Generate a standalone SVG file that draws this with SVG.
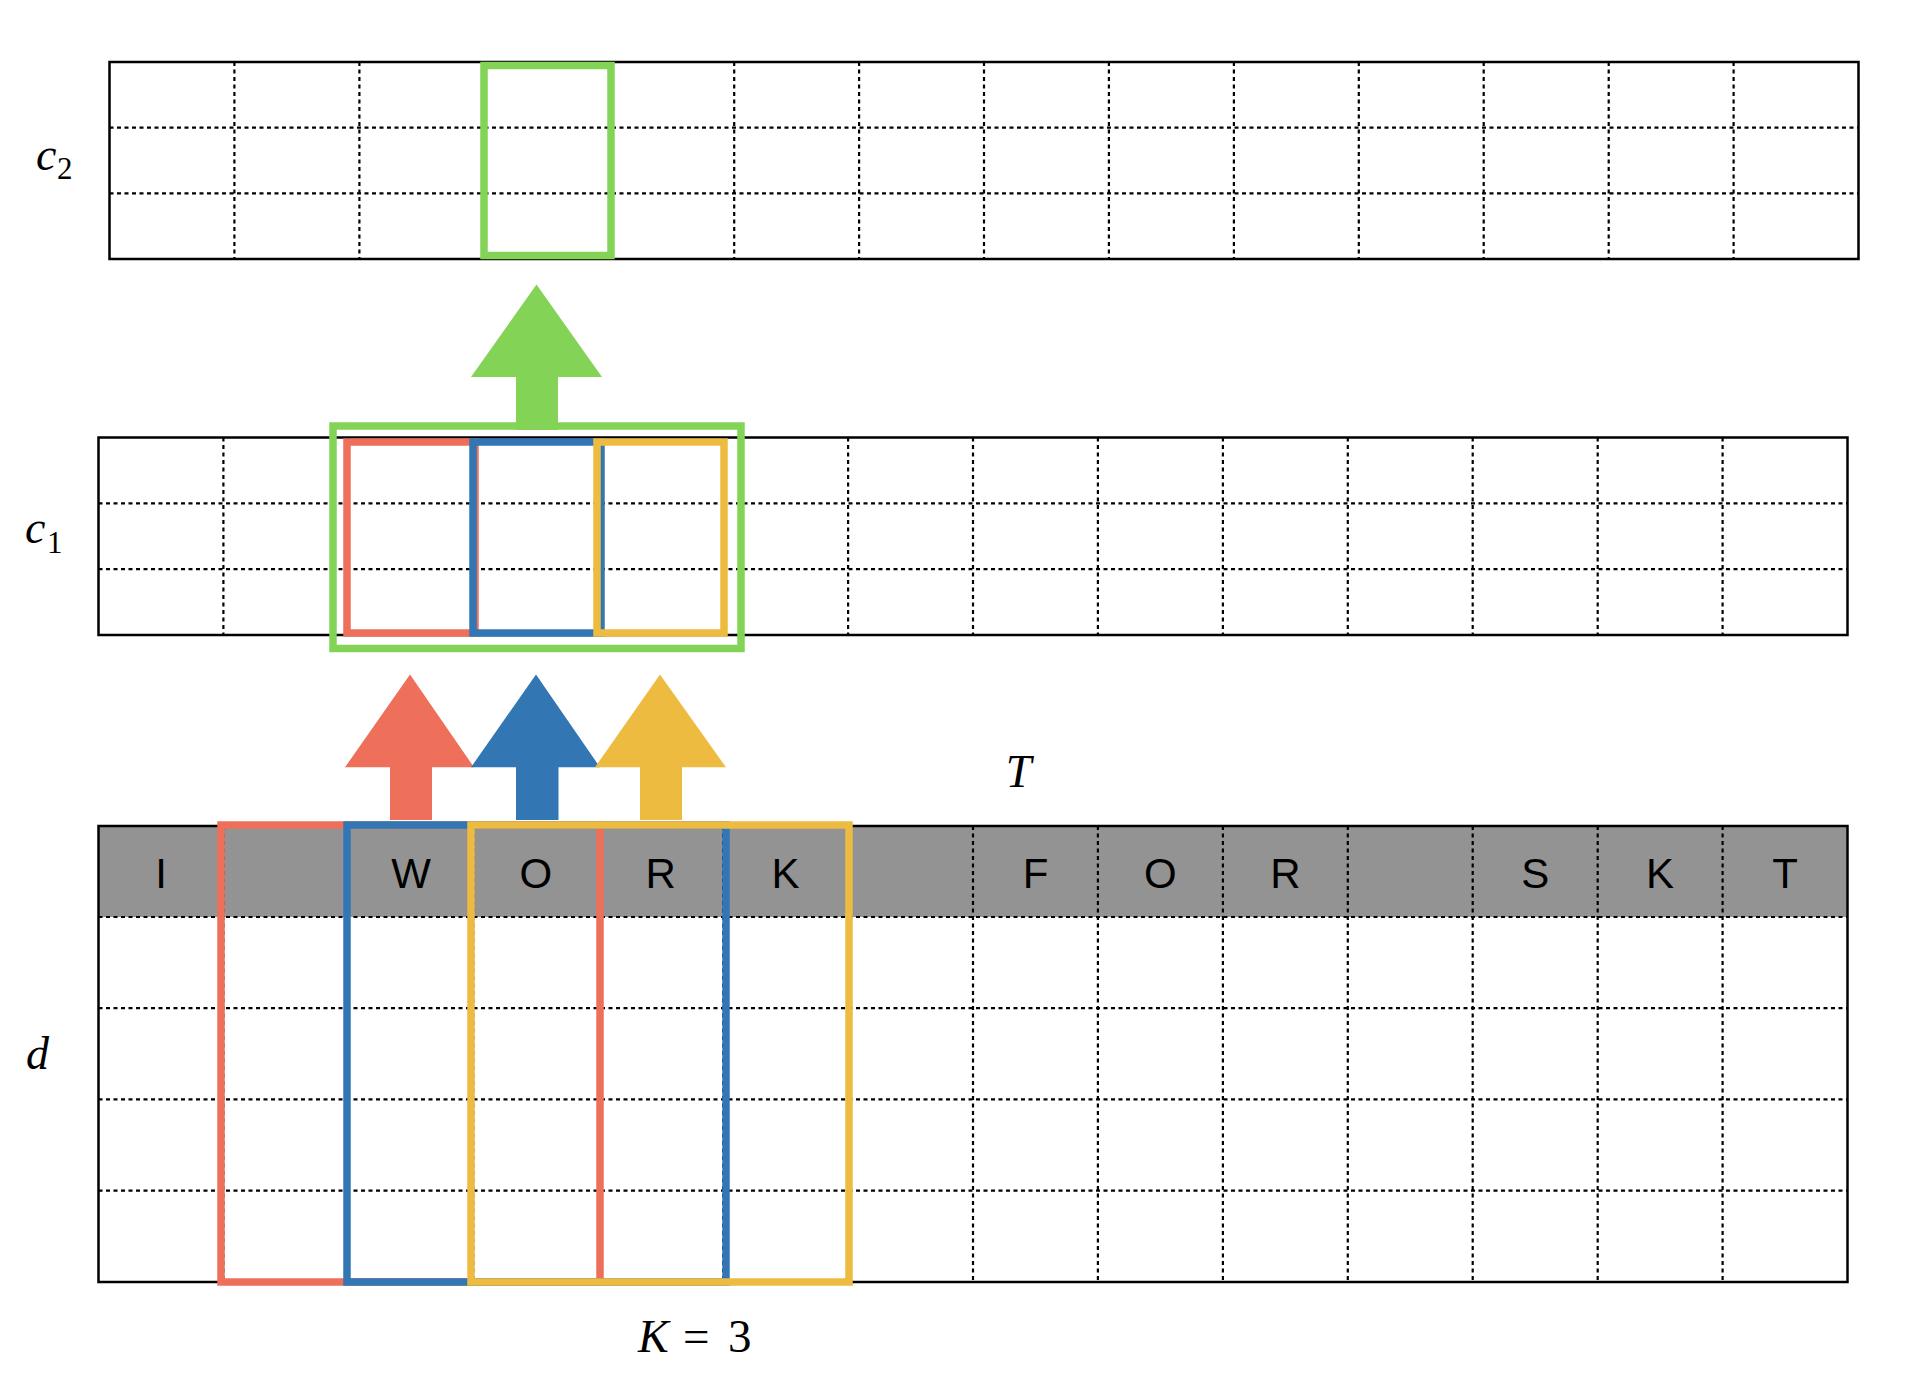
<svg xmlns="http://www.w3.org/2000/svg" width="1930" height="1378" viewBox="0 0 1930 1378">
<style>
.border{fill:none;stroke:#000;stroke-width:2.5}
.dash{stroke:#000;stroke-width:2.2;stroke-dasharray:4 3.5;fill:none}
.box{fill:none;stroke-width:7.5}
.red{stroke:#EE6F5A}
.blue{stroke:#3277B4}
.yellow{stroke:#EEBB41}
.green{stroke:#83D356}
.tok{font-family:"Liberation Sans",Arial,sans-serif;font-size:42px;text-anchor:middle;fill:#000}
.math{font-family:"Liberation Serif","Times New Roman",serif;font-style:italic;font-size:46px;fill:#000}
.sub{font-family:"Liberation Serif","Times New Roman",serif;font-style:normal;font-size:31px;fill:#000}
.up{font-family:"Liberation Serif","Times New Roman",serif;font-style:normal;font-size:47px;fill:#000}
</style>
<rect width="1930" height="1378" fill="#fff"/>

<g id="c2-layer">
  <rect x="109.5" y="62" width="1749" height="197" fill="#fff"/>
  <path class="dash" d="M234.4 62V259M359.4 62V259M484.3 62V259M609.2 62V259M734.2 62V259M859.1 62V259M984 62V259M1108.9 62V259M1233.9 62V259M1358.8 62V259M1483.7 62V259M1608.7 62V259M1733.6 62V259M109.5 127.7H1858.5M109.5 193.3H1858.5"/>
  <rect class="border" x="109.5" y="62" width="1749" height="197"/>
  <rect id="c2-window" class="box green" x="484" y="65.5" width="127" height="190"/>
  <text class="math" x="36" y="170" font-size="45">c</text>
  <text class="sub" x="57" y="179">2</text>
</g>

<g id="c1-layer">
  <rect x="98.5" y="437.5" width="1749" height="197.5" fill="#fff"/>
  <path class="dash" d="M223.4 437.5V635M348.4 437.5V635M473.3 437.5V635M598.2 437.5V635M723.2 437.5V635M848.1 437.5V635M973 437.5V635M1097.9 437.5V635M1222.9 437.5V635M1347.8 437.5V635M1472.7 437.5V635M1597.7 437.5V635M1722.6 437.5V635M98.5 503.3H1847.5M98.5 569.2H1847.5"/>
  <rect class="border" x="98.5" y="437.5" width="1749" height="197.5"/>
  <rect id="c1-red" class="box red" x="347" y="442" width="128" height="191"/>
  <rect id="c1-blue" class="box blue" x="473" y="442" width="128" height="191"/>
  <rect id="c1-yellow" class="box yellow" x="597" y="442" width="127" height="191"/>
  <rect id="c1-green" class="box green" x="333" y="426" width="408" height="222.5"/>
  <text class="math" x="25" y="543" font-size="45">c</text>
  <text class="sub" x="47" y="553">1</text>
</g>

<g id="d-layer">
  <rect x="98.5" y="826" width="1749" height="456" fill="#fff"/>
  <rect x="98.5" y="826" width="1749" height="91" fill="#939393"/>
  <path class="dash" d="M223.4 826V1282M348.4 826V1282M473.3 826V1282M598.2 826V1282M723.2 826V1282M848.1 826V1282M973 826V1282M1097.9 826V1282M1222.9 826V1282M1347.8 826V1282M1472.7 826V1282M1597.7 826V1282M1722.6 826V1282M98.5 917H1847.5M98.5 1008.2H1847.5M98.5 1099.4H1847.5M98.5 1190.6H1847.5"/>
  <rect class="border" x="98.5" y="826" width="1749" height="456"/>
  <g id="tokens">
    <text class="tok" x="161" y="888">I</text>
    <text class="tok" x="411" y="888">W</text>
    <text class="tok" x="535.8" y="888">O</text>
    <text class="tok" x="660.7" y="888">R</text>
    <text class="tok" x="785.6" y="888">K</text>
    <text class="tok" x="1035.5" y="888">F</text>
    <text class="tok" x="1160.4" y="888">O</text>
    <text class="tok" x="1285.3" y="888">R</text>
    <text class="tok" x="1535.2" y="888">S</text>
    <text class="tok" x="1660.1" y="888">K</text>
    <text class="tok" x="1785" y="888">T</text>
  </g>
  <rect id="d-red" class="box red" x="221" y="825" width="379" height="457"/>
  <rect id="d-blue" class="box blue" x="347" y="825" width="379" height="457"/>
  <rect id="d-yellow" class="box yellow" x="471" y="825" width="378" height="457"/>
  <text class="math" x="26" y="1069">d</text>
</g>

<g id="labels">
  <text class="math" x="1018.5" y="786.5" text-anchor="middle" font-size="47">T</text>
  <text x="638" y="1352"><tspan class="math" font-size="47">K</tspan><tspan class="up" x="683" font-size="53">=</tspan><tspan class="up" x="728">3</tspan></text>
</g>

<g id="connectors">
  <polygon fill="#83D356" points="536.5,284.5 602,377 558,377 558,430 516,430 516,377 471,377"/>
  <polygon fill="#EE6F5A" points="410,674.5 474,767.3 432,767.3 432,820 390,820 390,767.3 345,767.3"/>
  <polygon fill="#3277B4" points="536,674.5 600,767.3 558.5,767.3 558.5,820 516,820 516,767.3 471,767.3"/>
  <polygon fill="#EEBB41" points="660,674.5 726,767.3 682,767.3 682,820 640,820 640,767.3 595,767.3"/>
</g>
</svg>
